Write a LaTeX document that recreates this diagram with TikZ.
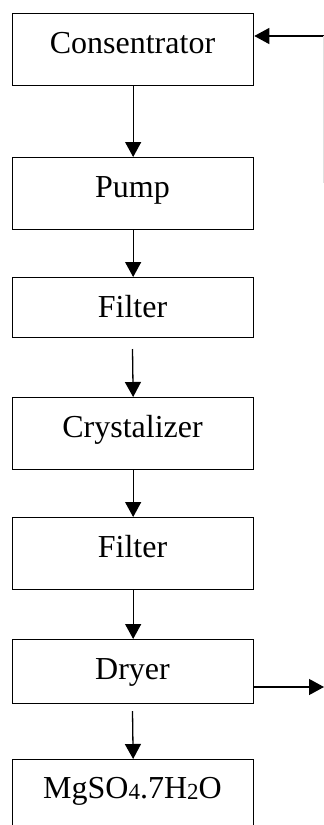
\documentclass[tikz,border=0pt]{standalone}
\usepackage{fontspec}
\setmainfont{Liberation Serif}
\usetikzlibrary{arrows.meta}

\tikzset{
  stagebox/.style={draw=black, line width=1.3pt, minimum width=241pt, inner sep=0pt, anchor=north west},
  stagetext/.style={font=\fontsize{32}{36}\selectfont, anchor=base, inner sep=0pt},
  flow/.style={draw=black, line width=1.3pt, -{Triangle[width=16pt,length=15pt]}},
}
\newcommand{\smalldigit}[1]{\raisebox{-1pt}{\fontsize{23}{26}\selectfont #1}}

\begin{document}
\begin{tikzpicture}[x=1pt, y=-1pt]
  \useasboundingbox (0,0) rectangle (324,825);
  \clip (0,0) rectangle (324,825);

  % process stages, top to bottom
  \node[stagebox, minimum height=72pt] (cons)  at (12,13)  {};
  \node[stagebox, minimum height=72pt] (pump)  at (12,157) {};
  \node[stagebox, minimum height=60pt] (filt1) at (12,277) {};
  \node[stagebox, minimum height=72pt] (cryst) at (12,397) {};
  \node[stagebox, minimum height=72pt] (filt2) at (12,517) {};
  \node[stagebox, minimum height=64pt] (dryer) at (12,639) {};
  \node[stagebox, minimum height=80pt] (prod)  at (12,759) {};

  % labels, set on a common baseline offset from each box top
  \node[stagetext] (tcons)  at (132.5,53)  {Consentrator};
  \node[stagetext] (tpump)  at (132.5,197) {Pump};
  \node[stagetext] (tfilt1) at (132.5,317) {Filter};
  \node[stagetext] (tcryst) at (132.5,437) {Crystalizer};
  \node[stagetext] (tfilt2) at (132.5,557) {Filter};
  \node[stagetext] (tdryer) at (132.5,679) {Dryer};
  \node[stagetext] (tprod)  at (132.5,798) {MgSO\smalldigit{4}.7H\smalldigit{2}O};

  % main flow
  \draw[flow] (cons.south) -- (pump.north);
  \draw[flow] (pump.south) -- (filt1.north);
  \coordinate (f1out) at (132.5,349);
  \draw[flow] (f1out) -- (cryst.north);
  \draw[flow] (cryst.south) -- (filt2.north);
  \draw[flow] (filt2.south) -- (dryer.north);
  \coordinate (drout) at (132.5,711);
  \draw[flow] (drout) -- (prod.north);

  % recycle inlet and dryer outlet
  \coordinate (recin) at (324,36);
  \draw[flow] (recin) -- (recin -| cons.east);
  \coordinate (drend) at (324,687);
  \draw[flow] (drend -| dryer.east) -- (drend);

  % faint return line at the right edge
  \coordinate (rtop) at (323.5,36);
  \coordinate (rbot) at (323.5,183);
  \draw[black!12, line width=1pt] (rtop) -- (rbot);
\end{tikzpicture}
\end{document}
